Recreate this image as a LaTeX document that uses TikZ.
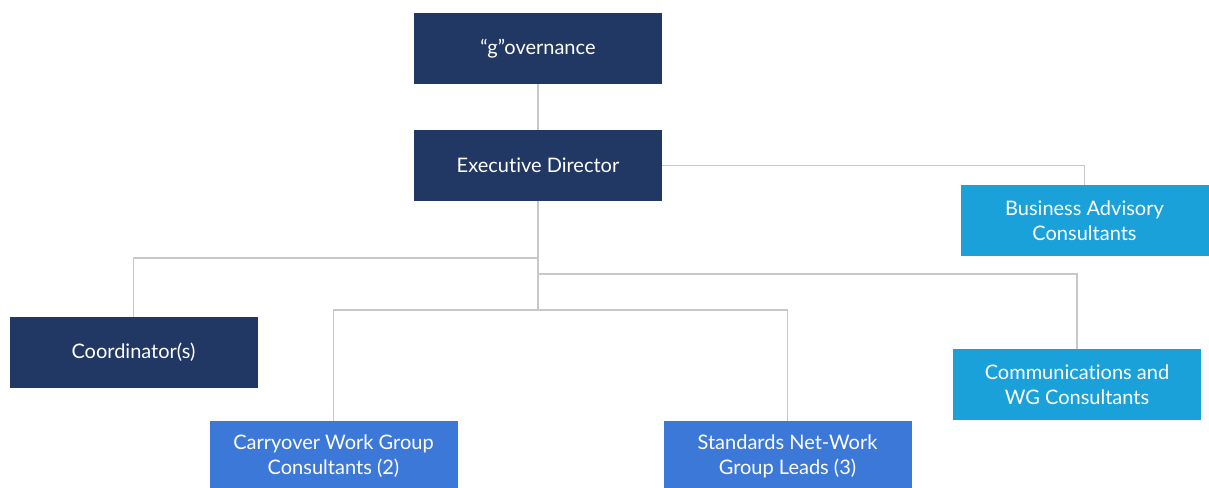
\documentclass[tikz,border=0pt]{standalone}
\usepackage{fontspec}
\setmainfont{Lato}[Ligatures={NoCommon}]
\definecolor{navy}{HTML}{213864}
\definecolor{sky}{HTML}{1BA1D9}
\definecolor{mid}{HTML}{3C78D8}
\definecolor{wire}{HTML}{C8C8C8}
\begin{document}
\begin{tikzpicture}[x=1pt, y=-1pt,
        box/.style = {minimum width=248pt, minimum height=71pt, inner sep=0pt, align=center, text=white, font=\fontsize{20}{25}\selectfont},
        link/.style = {draw=wire, line width=1.5pt}]
        \useasboundingbox (0,0) rectangle (1209,487);

        \node[box, fill=navy] (gov) at (538,48.5) {“g”overnance};
        \node[box, fill=navy] (ed) at (538,165.5) {Executive Director};
        \node[box, fill=sky] (bac) at (1084.5,220.5) {Business Advisory\\Consultants};
        \node[box, fill=navy] (coord) at (133.5,352.5) {Coordinator(s)};
        \node[box, fill=sky] (comm) at (1077,384.5) {Communications and\\WG Consultants};
        \node[box, fill=mid] (carry) at (333.5,456.5) {Carryover Work Group\\Consultants (2)};
        \node[box, fill=mid] (std) at (787.5,456.5) {Standards Net-Work\\Group Leads (3)};

        \coordinate (j1) at (538,258);
        \coordinate (j2) at (538,274);
        \coordinate (j3) at (538,310);

        \draw[link] (gov) -- (ed);
        \draw[link] (ed.east) -| (bac.north);
        \draw[link] (ed.south) -- (j3);
        \draw[link] (j1) -| (coord.north);
        \draw[link] (j2) -| (comm.north);
        \draw[link] (carry.north) |- (j3) -| (std.north);

    \end{tikzpicture}
\end{document}
